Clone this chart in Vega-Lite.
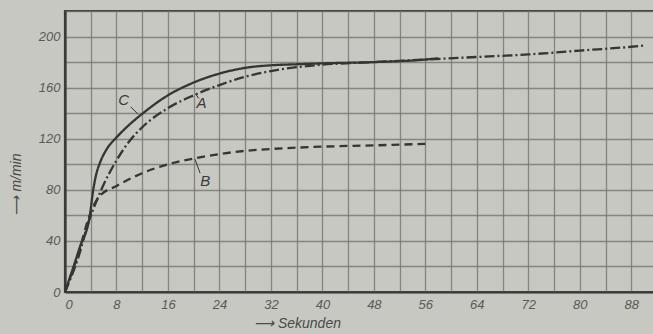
{
  "$schema": "https://vega.github.io/schema/vega-lite/v6.json",
  "autosize": {"type": "none"},
  "padding": {"left": 65, "top": 11, "right": 0, "bottom": 42},
  "width": 592,
  "height": 281,
  "background": "#c7c8c1",
  "config": {
    "view": {"stroke": "#3a3a38", "strokeWidth": 2.2},
    "axis": {
      "labelFont": "Liberation Sans",
      "labelFontStyle": "italic",
      "labelColor": "#5a5a56",
      "labelFontSize": 13,
      "titleFont": "Liberation Sans",
      "titleFontStyle": "italic",
      "titleFontWeight": "normal",
      "titleColor": "#4a4a46",
      "titleFontSize": 14,
      "gridColor": "#75756f",
      "gridWidth": 1.3,
      "gridOpacity": 0.8,
      "tickSize": 0,
      "domainColor": "#3a3a38",
      "domainWidth": 2.2
    }
  },
  "datasets": {
    "curves": [
      {"t": 0, "v": 0, "s": "C"}, {"t": 2.3, "v": 35, "s": "C"}, {"t": 3.9, "v": 61, "s": "C"},
      {"t": 4.3, "v": 77, "s": "C"}, {"t": 4.8, "v": 91, "s": "C"}, {"t": 5.5, "v": 102, "s": "C"},
      {"t": 6.5, "v": 112, "s": "C"}, {"t": 8, "v": 121, "s": "C"}, {"t": 10, "v": 131, "s": "C"},
      {"t": 12, "v": 139.5, "s": "C"},
      {"t": 16, "v": 154, "s": "C"}, {"t": 20, "v": 164, "s": "C"}, {"t": 24, "v": 171, "s": "C"},
      {"t": 28, "v": 175.5, "s": "C"}, {"t": 32, "v": 177.5, "s": "C"}, {"t": 36, "v": 178.3, "s": "C"},
      {"t": 40, "v": 179, "s": "C"}, {"t": 48, "v": 180, "s": "C"}, {"t": 56, "v": 182, "s": "C"},
      {"t": 58, "v": 183, "s": "C"},
      {"t": 0, "v": 0, "s": "A"}, {"t": 2, "v": 26, "s": "A"}, {"t": 3.8, "v": 57, "s": "A"},
      {"t": 4.8, "v": 70, "s": "A"}, {"t": 5.9, "v": 83, "s": "A"}, {"t": 8, "v": 103, "s": "A"},
      {"t": 10, "v": 118, "s": "A"}, {"t": 12, "v": 129, "s": "A"},
      {"t": 16, "v": 144, "s": "A"}, {"t": 20, "v": 154, "s": "A"}, {"t": 24, "v": 162, "s": "A"},
      {"t": 28, "v": 168.5, "s": "A"}, {"t": 32, "v": 173, "s": "A"}, {"t": 36, "v": 176, "s": "A"},
      {"t": 40, "v": 178, "s": "A"}, {"t": 48, "v": 180, "s": "A"}, {"t": 56, "v": 182, "s": "A"},
      {"t": 64, "v": 184, "s": "A"}, {"t": 72, "v": 186, "s": "A"}, {"t": 80, "v": 189, "s": "A"},
      {"t": 88, "v": 192, "s": "A"}, {"t": 90, "v": 193, "s": "A"},
      {"t": 0, "v": 0, "s": "B"}, {"t": 2, "v": 29, "s": "B"}, {"t": 3.9, "v": 61, "s": "B"},
      {"t": 4.6, "v": 69, "s": "B"}, {"t": 5.4, "v": 75, "s": "B"}, {"t": 8, "v": 83, "s": "B"},
      {"t": 12, "v": 93, "s": "B"}, {"t": 16, "v": 100, "s": "B"},
      {"t": 20, "v": 104.5, "s": "B"}, {"t": 24, "v": 108, "s": "B"}, {"t": 28, "v": 110.5, "s": "B"},
      {"t": 32, "v": 112, "s": "B"}, {"t": 36, "v": 113, "s": "B"}, {"t": 40, "v": 113.8, "s": "B"},
      {"t": 48, "v": 114.8, "s": "B"}, {"t": 56, "v": 116, "s": "B"}
    ],
    "labels": [
      {"t": 9.1, "v": 150, "s": "C", "t1": 10.2, "v1": 145, "t2": 11.4, "v2": 139},
      {"t": 21.2, "v": 148, "s": "A", "t1": 20.8, "v1": 151.5, "t2": 20.3, "v2": 155},
      {"t": 21.8, "v": 87, "s": "B", "t1": 21.0, "v1": 93, "t2": 20.2, "v2": 104}
    ]
  },
  "encoding": {
    "x": {
      "field": "t", "type": "quantitative",
      "scale": {"domain": [0, 92], "nice": false, "zero": false},
      "axis": {
        "title": "⟶ Sekunden",
        "values": [0,4,8,12,16,20,24,28,32,36,40,44,48,52,56,60,64,68,72,76,80,84,88,92],
        "labelExpr": "datum.value % 8 == 0 ? datum.label : ''",
        "labelPadding": 6,
        "titleX": 232,
        "titleY": 24,
        "titleBaseline": "top"
      }
    },
    "y": {
      "field": "v", "type": "quantitative",
      "scale": {"domain": [0, 220], "nice": false},
      "axis": {
        "title": "⟶ m/min",
        "values": [0,20,40,60,80,100,120,140,160,180,200,220],
        "labelExpr": "datum.value % 40 == 0 && datum.value <= 200 ? datum.label : ''",
        "labelPadding": 5,
        "titleX": -42,
        "titleY": 173,
        "titleAngle": -90
      }
    }
  },
  "layer": [
    {
      "data": {"name": "curves"},
      "mark": {"type": "line", "interpolate": "monotone", "color": "#353533", "strokeWidth": 2.3},
      "encoding": {
        "detail": {"field": "s"},
        "strokeDash": {
          "field": "s", "type": "nominal",
          "scale": {"domain": ["A", "B", "C"], "range": [[10, 3, 2, 3], [8, 5], [1, 0]]},
          "legend": null
        }
      }
    },
    {
      "data": {"name": "labels"},
      "mark": {"type": "rule", "color": "#353533", "strokeWidth": 1},
      "encoding": {
        "x": {"field": "t1", "type": "quantitative"},
        "y": {"field": "v1", "type": "quantitative"},
        "x2": {"field": "t2"},
        "y2": {"field": "v2"}
      }
    },
    {
      "data": {"name": "labels"},
      "mark": {"type": "text", "font": "Liberation Sans", "fontStyle": "italic", "fontSize": 15, "color": "#3a3a38"},
      "encoding": {"text": {"field": "s"}}
    }
  ]
}
